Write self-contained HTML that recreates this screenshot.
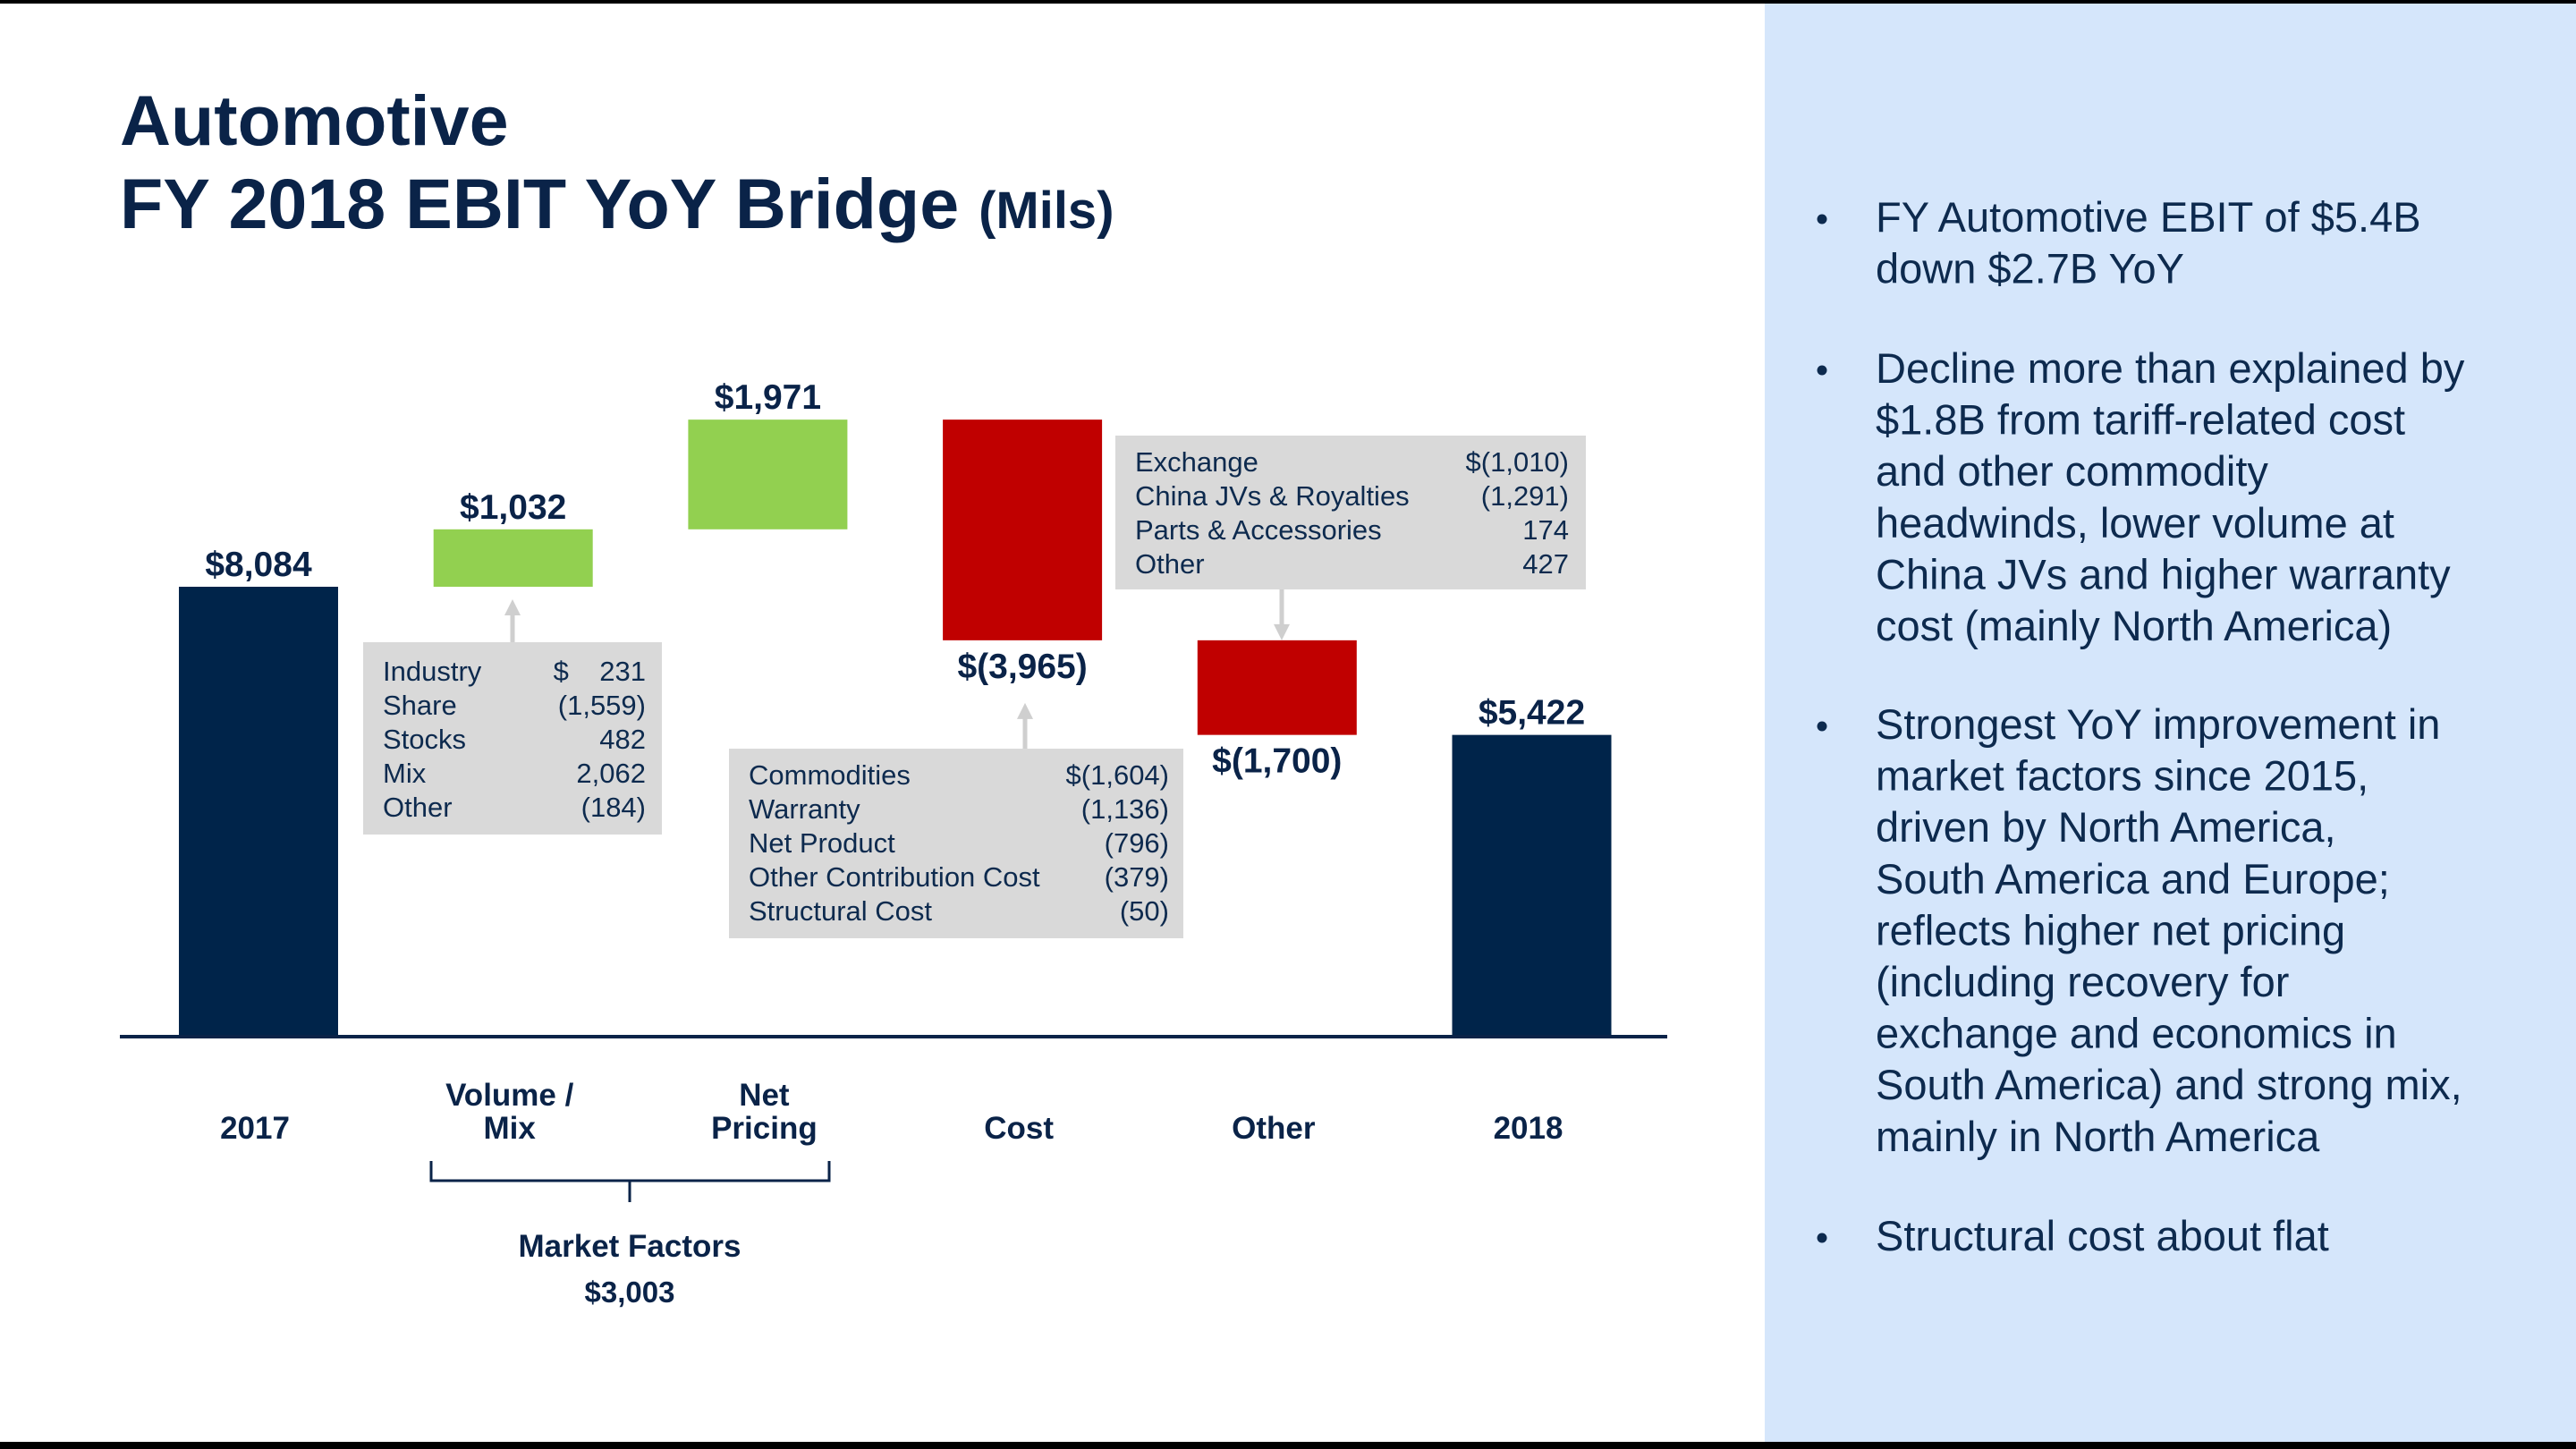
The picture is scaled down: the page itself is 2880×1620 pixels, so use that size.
<!DOCTYPE html>
<html><head><meta charset="utf-8"><style>
html,body{margin:0;padding:0;background:#fff;}
svg{display:block;font-family:"Liberation Sans",Arial,sans-serif;}
</style></head><body>
<svg id="chart" width="2880" height="1620" viewBox="0 0 2880 1620" xmlns="http://www.w3.org/2000/svg">
<rect x="0" y="0" width="2880" height="1620" fill="#fff"/>
<rect x="1973" y="0" width="907" height="1620" fill="#d5e6fb"/>
<rect x="0" y="0" width="2880" height="4" fill="#000"/>
<rect x="0" y="1612" width="2880" height="8" fill="#000"/>
<text fill="#0a2348" font-weight="bold" font-size="79">
<tspan x="134" y="162">Automotive</tspan>
<tspan x="134" y="255">FY 2018 EBIT YoY Bridge <tspan font-size="58">(Mils)</tspan></tspan>
</text>
<g id="bars"></g>
<g id="labels"></g>
<rect x="134" y="1157" width="1730" height="4" fill="#0a2348"/>
<g fill="none" stroke="#0a2348" stroke-width="3">
<path d="M482 1298 V1320 H927 V1298 M704 1320 V1344"/>
</g>
<text x="704" y="1405" text-anchor="middle" font-size="35" font-weight="bold" fill="#0a2348">Market Factors</text>
<text x="704" y="1456" text-anchor="middle" font-size="33" font-weight="bold" fill="#0a2348">$3,003</text>
<g id="callouts"></g>
<g id="bullets" fill="#0d2a4e" font-size="47"></g>
</svg>
<script>
const categories = ["2017","Volume / Mix","Net Pricing","Cost","Other","2018"];
const values = [8084, 1032, 1971, -3965, -1700, 5422];
const kinds = ["total","delta","delta","delta","delta","total"];
const valueLabels = ["$8,084","$1,032","$1,971","$(3,965)","$(1,700)","$5,422"];
const box1Labels = ["Industry","Share","Stocks","Mix","Other"];
const box1Values = ["$    231","(1,559)","482","2,062","(184)"];
const box2Labels = ["Commodities","Warranty","Net Product","Other Contribution Cost","Structural Cost"];
const box2Values = ["$(1,604)","(1,136)","(796)","(379)","(50)"];
const box3Labels = ["Exchange","China JVs & Royalties","Parts & Accessories","Other"];
const box3Values = ["$(1,010)","(1,291)","174","427"];
const bulletTexts = [
 ["FY Automotive EBIT of $5.4B","down $2.7B YoY"],
 ["Decline more than explained by","$1.8B from tariff-related cost","and other commodity","headwinds, lower volume at","China JVs and higher warranty","cost (mainly North America)"],
 ["Strongest YoY improvement in","market factors since 2015,","driven by North America,","South America and Europe;","reflects higher net pricing","(including recovery for","exchange and economics in","South America) and strong mix,","mainly in North America"],
 ["Structural cost about flat"]
];

const NS="http://www.w3.org/2000/svg";
const baseY=1159, pxPer=503/8084, x0=289, step=284.7, bw=178;
const yS=v=>baseY - v*pxPer;
const xC=i=>x0+i*step;
function mk(tag,attrs,parent,text){const e=document.createElementNS(NS,tag);for(const k in attrs)e.setAttribute(k,attrs[k]);if(text!==undefined)e.textContent=text;parent.appendChild(e);return e;}
const gB=document.getElementById('bars'), gL=document.getElementById('labels');
let run=0; const tops=[], bots=[];
values.forEach((v,i)=>{
  let a,b,fill;
  if(kinds[i]==="total"){a=0;b=v;run=v;fill="#00244a";}
  else {a=run;b=run+v;run=b;fill=v>=0?"#92d050":"#c00000";}
  const top=yS(Math.max(a,b)), bot=yS(Math.min(a,b));
  tops.push(top); bots.push(bot);
  const r=mk('rect',{x:xC(i)-bw/2,y:top,width:bw,height:bot-top,fill:fill},gB);
  
  
  const ly = v>=0 ? top-12 : bot+42;
  const t=mk('text',{x:xC(i),y:ly,'text-anchor':'middle','font-size':39,'font-weight':'bold',fill:'#0a2348'},gL,valueLabels[i]);
  
  
  const parts=categories[i].includes(' ')&&categories[i]!=="2017"?(categories[i]==="Volume / Mix"?["Volume /","Mix"]:["Net","Pricing"]):[categories[i]];
  const c=mk('text',{x:xC(i)-4,'text-anchor':'middle','font-size':35,'font-weight':'bold',fill:'#0a2348'},gL);
  
  
  parts.forEach((p,k)=>mk('tspan',{x:xC(i)-4,y:1273-(parts.length-1-k)*37},c,p));
});
const gC=document.getElementById('callouts');
function callout(name,bx,by,bw2,bh,labels,vals,lx,rx,firstBase,lineH,arrow){
  const g=mk('g',{},gC);
  
  
  mk('rect',{x:bx,y:by,width:bw2,height:bh,fill:'#d9d9d9'},g);
  labels.forEach((l,k)=>{
    mk('text',{x:lx,y:firstBase+k*lineH,'font-size':31,fill:'#0d2a4e'},g,l);
    const vt=mk('text',{x:rx,y:firstBase+k*lineH,'font-size':31,fill:'#0d2a4e','text-anchor':'end'},g,vals[k]);
    vt.style.whiteSpace='pre';
  });
  const [ax,y1,y2]=arrow, dir=y2<y1?1:-1;
  mk('line',{x1:ax,y1:y1,x2:ax,y2:y2+dir*14,stroke:'#cfcfcf','stroke-width':5},g);
  mk('path',{d:`M${ax-9} ${y2+dir*18} L${ax} ${y2} L${ax+9} ${y2+dir*18} Z`,fill:'#cfcfcf'},g);
}
callout('volume-mix-callout',406,718,334,215,box1Labels,box1Values,428,722,761,38,[573,718,bots[1]+14]);
callout('cost-callout',815,837,508,212,box2Labels,box2Values,837,1307,877,38,[1146,837,bots[3]+70]);
callout('other-callout',1247,487,526,172,box3Labels,box3Values,1269,1754,527,38,[1433,659,tops[4]]);
const gT=document.getElementById('bullets');
const starts=[259,428,826,1398];
bulletTexts.forEach((lines,b)=>{
  const g=mk('g',{},gT);
  
  
  mk('circle',{cx:2037,cy:starts[b]-14,r:5.5,fill:'#0d2a4e'},g);
  lines.forEach((l,k)=>mk('text',{x:2097,y:starts[b]+k*57.6},g,l));
});
</script>
</body></html>
